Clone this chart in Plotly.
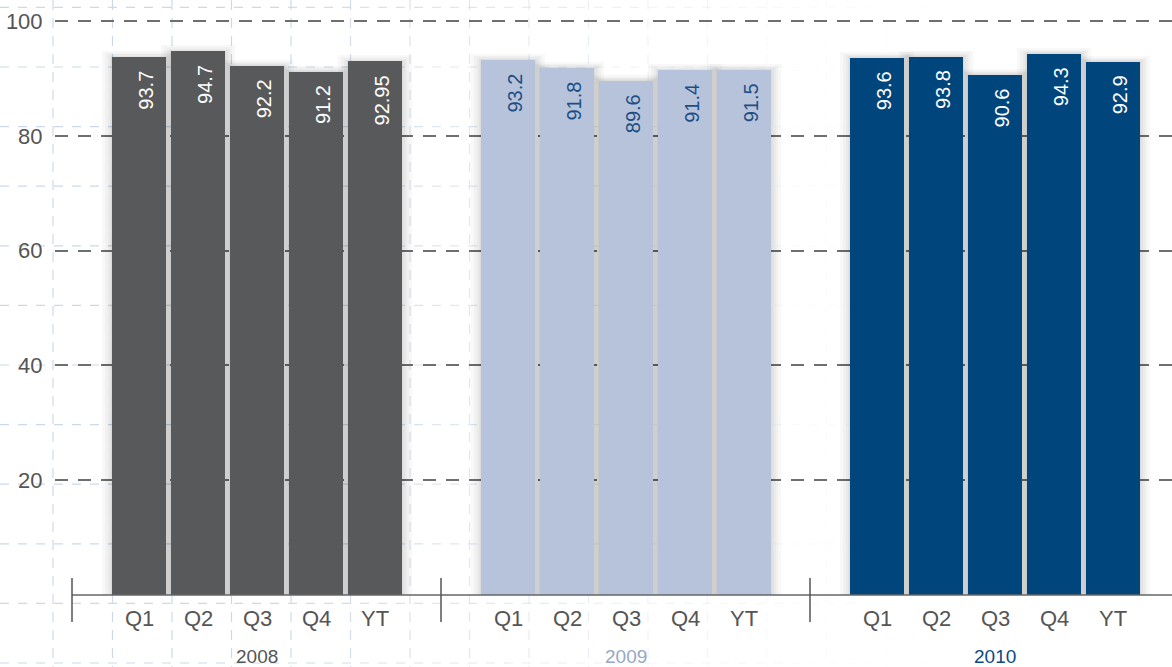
import plotly.graph_objects as go

# ---------------- data ----------------
years = ["2008", "2009", "2010"]
quarters = ["Q1", "Q2", "Q3", "Q4", "YT"]
v2008 = [93.7, 94.7, 92.2, 91.2, 92.95]
v2009 = [93.2, 91.8, 89.6, 91.4, 91.5]
v2010 = [93.6, 93.8, 90.6, 94.3, 92.9]
series = [v2008, v2009, v2010]
value_labels = [["93.7", "94.7", "92.2", "91.2", "92.95"],
                ["93.2", "91.8", "89.6", "91.4", "91.5"],
                ["93.6", "93.8", "90.6", "94.3", "92.9"]]
y_ticks = [20, 40, 60, 80, 100]

# ---------------- styles ----------------
bar_colors = ["#58595b", "#b7c3db", "#00457c"]
label_colors = ["#ffffff", "#1b4f86", "#ffffff"]
year_colors = ["#555555", "#97a7c3", "#0b4a82"]
FONT = "Liberation Sans, Arial, Helvetica, sans-serif"

W, H = 1172, 667
YPX = 5.74              # px per y unit
TOPPAD = 3              # px above the 100 line
L, R, T, B = 55, 0, 21 - TOPPAD, 72
PW, PH = W - L - R, H - T - B
YMAX = 100 + TOPPAD / YPX
PITCH = 59.0           # px per bar slot
GROUP = 369.0 / PITCH  # group width in slot units
FIRST = 67.0 / PITCH   # first bar centre offset from group separator
BW = 54.0 / PITCH      # bar width
SEP0 = 72.0            # px of first separator
XMIN = (L - SEP0) / PITCH
XMAX = (W - R - SEP0) / PITCH

def px_x(u):
    return (u - L) / PW

def px_y(v):
    return (H - B - v) / PH

fig = go.Figure()

# shadow (glow) layers
for k in [1, 2.5, 4.5, 7, 10]:
    for g, vals in enumerate(series):
        xs = [g * GROUP + FIRST + i for i in range(len(vals))]
        fig.add_trace(go.Bar(
            x=xs, y=[v + 1.6 * k / YPX for v in vals], base=-k / YPX,
            width=BW + 2 * k / PITCH,
            marker=dict(color="rgba(0,0,0,0.028)", line=dict(width=0)),
            hoverinfo="skip", showlegend=False))

# main bars
for g, vals in enumerate(series):
    xs = [g * GROUP + FIRST + i for i in range(len(vals))]
    fig.add_trace(go.Bar(
        x=xs, y=vals, width=BW, name=years[g],
        marker=dict(color=bar_colors[g], line=dict(width=0)),
        showlegend=False))

annotations = []
for g, vals in enumerate(series):
    for i, v in enumerate(vals):
        x = g * GROUP + FIRST + i
        annotations.append(dict(
            x=x, y=v, xref="x", yref="y", text=value_labels[g][i],
            showarrow=False, textangle=-90, yanchor="top", xanchor="center",
            yshift=-12, xshift=7,
            font=dict(family=FONT, size=20, color=label_colors[g])))
        annotations.append(dict(
            x=x, y=0, xref="x", yref="y", text=quarters[i],
            showarrow=False, yanchor="middle", xanchor="center", yshift=-23,
            font=dict(family=FONT, size=22, color="#555555")))
    annotations.append(dict(
        x=g * GROUP + FIRST + 2, y=0, xref="x", yref="y", text=years[g],
        showarrow=False, yanchor="middle", xanchor="center", yshift=-61,
        font=dict(family=FONT, size=19, color=year_colors[g])))

shapes = []
# graph-paper background (fading to the right)
def alpha_at(x):
    a = (980.0 - x) / 700.0
    return float(min(1.0, max(0.0, a))) ** 1.5

vx = [53 + 59.5 * n for n in range(20)]
hy = [7.4 + 59.6 * n for n in range(12)]
for x in vx:
    a = alpha_at(x)
    if a <= 0.01:
        continue
    shapes.append(dict(type="line", xref="paper", yref="paper",
                       x0=px_x(x), x1=px_x(x), y0=px_y(0), y1=px_y(H),
                       line=dict(color=f"rgba(205,217,232,{a:.3f})", width=1.2, dash="10px,8px"),
                       layer="below"))
seg = 72
for y in hy:
    for s in range(0, W, seg):
        a = alpha_at(s + seg / 2)
        if a <= 0.01:
            continue
        shapes.append(dict(type="line", xref="paper", yref="paper",
                           x0=px_x(s), x1=px_x(s + seg), y0=px_y(y), y1=px_y(y),
                           line=dict(color=f"rgba(205,217,232,{a:.3f})", width=1.2, dash="9px,9px"),
                           layer="below"))

# axis baseline and group separators
shapes.append(dict(type="line", xref="paper", yref="paper",
                   x0=px_x(SEP0), x1=1.0, y0=px_y(H - B), y1=px_y(H - B),
                   line=dict(color="#666666", width=1.5), layer="above"))
for g in range(len(years)):
    xs = SEP0 + g * GROUP * PITCH
    shapes.append(dict(type="line", xref="paper", yref="paper",
                       x0=px_x(xs), x1=px_x(xs), y0=px_y(578), y1=px_y(622),
                       line=dict(color="#555555", width=1.5), layer="above"))

fig.update_layout(
    width=W, height=H,
    margin=dict(l=L, r=R, t=T, b=B, pad=0),
    paper_bgcolor="white", plot_bgcolor="rgba(0,0,0,0)",
    barmode="overlay", bargap=0,
    showlegend=False,
    xaxis=dict(range=[XMIN, XMAX], showgrid=False, zeroline=False,
               showticklabels=False, showline=False, fixedrange=True),
    yaxis=dict(range=[0, YMAX], tickvals=y_ticks, ticktext=[str(t) for t in y_ticks],
               showgrid=True, gridcolor="#6e6e6e", gridwidth=1.6, griddash="13px,10px",
               zeroline=False, showline=False, ticks="outside", ticklen=7,
               tickcolor="rgba(0,0,0,0)",
               tickfont=dict(family=FONT, size=22, color="#555555"), fixedrange=True),
    annotations=annotations, shapes=shapes,
)

fig.write_html("out.html")
